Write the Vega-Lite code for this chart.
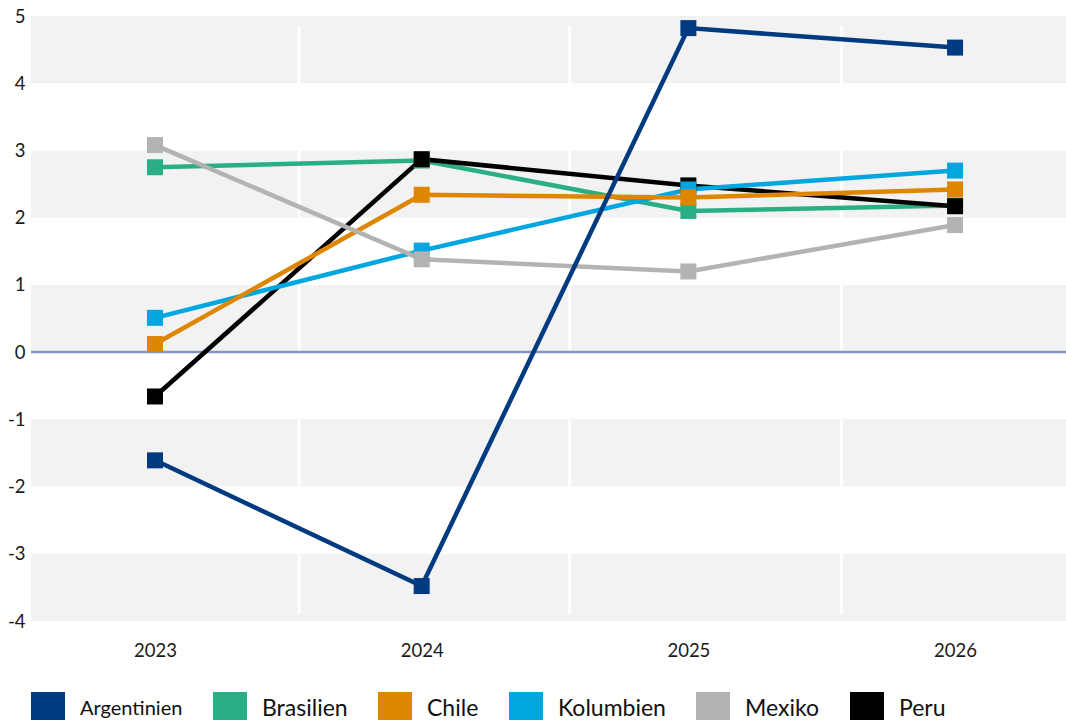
{
  "$schema": "https://vega.github.io/schema/vega-lite/v6.json",
  "autosize": {"type": "none"},
  "width": 1035,
  "height": 605,
  "padding": {"left": 31, "top": 16, "right": 0, "bottom": 99},
  "background": "white",
  "config": {
    "view": {"stroke": null},
    "font": "Lato",
    "axis": {"labelFont": "Lato", "labelColor": "#1a1a1a", "grid": false, "domain": false, "ticks": false}
  },
  "data": {"values": [
    {"land": "Brasilien", "jahr": 2023, "wert": 2.75},
    {"land": "Brasilien", "jahr": 2024, "wert": 2.85},
    {"land": "Brasilien", "jahr": 2025, "wert": 2.1},
    {"land": "Brasilien", "jahr": 2026, "wert": 2.18},
    {"land": "Peru", "jahr": 2023, "wert": -0.66},
    {"land": "Peru", "jahr": 2024, "wert": 2.87},
    {"land": "Peru", "jahr": 2025, "wert": 2.48},
    {"land": "Peru", "jahr": 2026, "wert": 2.17},
    {"land": "Kolumbien", "jahr": 2023, "wert": 0.51},
    {"land": "Kolumbien", "jahr": 2024, "wert": 1.51},
    {"land": "Kolumbien", "jahr": 2025, "wert": 2.42},
    {"land": "Kolumbien", "jahr": 2026, "wert": 2.7},
    {"land": "Chile", "jahr": 2023, "wert": 0.12},
    {"land": "Chile", "jahr": 2024, "wert": 2.34},
    {"land": "Chile", "jahr": 2025, "wert": 2.3},
    {"land": "Chile", "jahr": 2026, "wert": 2.42},
    {"land": "Mexiko", "jahr": 2023, "wert": 3.08},
    {"land": "Mexiko", "jahr": 2024, "wert": 1.38},
    {"land": "Mexiko", "jahr": 2025, "wert": 1.2},
    {"land": "Mexiko", "jahr": 2026, "wert": 1.89},
    {"land": "Argentinien", "jahr": 2023, "wert": -1.61},
    {"land": "Argentinien", "jahr": 2024, "wert": -3.48},
    {"land": "Argentinien", "jahr": 2025, "wert": 4.82},
    {"land": "Argentinien", "jahr": 2026, "wert": 4.53}
  ]},
  "layer": [
    {
      "data": {"values": [
        {"lo": 4, "hi": 5}, {"lo": 2, "hi": 3}, {"lo": 0, "hi": 1}, {"lo": -2, "hi": -1}, {"lo": -4, "hi": -3}
      ]},
      "mark": {"type": "rect", "color": "#F2F2F2"},
      "encoding": {
        "y": {"field": "lo", "type": "quantitative", "title": null,
          "scale": {"domain": [-4, 5], "nice": false, "zero": false},
          "axis": {"values": [-4, -3, -2, -1, 0, 1, 2, 3, 4, 5], "labelExpr": "'' + datum.value", "labelFontSize": 18.5, "labelPadding": 6, "title": null}},
        "y2": {"field": "hi"}
      }
    },
    {
      "data": {"values": [
        {"pos": 2023.54, "lo": -3.9, "hi": 4.85},
        {"pos": 2024.555, "lo": -3.9, "hi": 4.85},
        {"pos": 2025.574, "lo": -3.9, "hi": 4.85}
      ]},
      "mark": {"type": "rule", "color": "white", "strokeWidth": 3},
      "encoding": {
        "x": {"field": "pos", "type": "quantitative", "title": null,
          "scale": {"domain": [2022.535, 2026.416], "nice": false, "zero": false},
          "axis": {"values": [2023, 2024, 2025, 2026], "format": "d", "labelFontSize": 18.5, "labelPadding": 20, "title": null,
            "encode": {"labels": {"update": {"dx": {"signal": "(2024.5 - datum.value) * 4.7"}}}}}},
        "y": {"field": "lo", "type": "quantitative", "title": null},
        "y2": {"field": "hi"}
      }
    },
    {
      "data": {"values": [{"null": 0}]},
      "mark": {"type": "rule", "color": "#8197C3", "strokeWidth": 2.5},
      "encoding": {
        "y": {"field": "null", "type": "quantitative", "title": null}
      }
    },
    {
      "mark": {"type": "line", "strokeWidth": 4.5},
      "encoding": {
        "x": {"field": "jahr", "type": "quantitative", "title": null},
        "y": {"field": "wert", "type": "quantitative", "title": null},
        "color": {"field": "land", "type": "nominal", "title": null,
          "scale": {"domain": ["Argentinien", "Brasilien", "Chile", "Kolumbien", "Mexiko", "Peru"],
                    "range": ["#003A80", "#2AAE86", "#DF8600", "#00A6E0", "#B3B3B3", "#000000"]}}
      }
    },
    {
      "mark": {"type": "point", "shape": "square", "filled": true, "size": 256, "opacity": 1, "strokeWidth": 0},
      "encoding": {
        "x": {"field": "jahr", "type": "quantitative", "title": null},
        "y": {"field": "wert", "type": "quantitative", "title": null},
        "color": {"field": "land", "type": "nominal", "title": null,
          "legend": {
            "title": null, "orient": "bottom", "direction": "horizontal", "offset": 32,
            "symbolType": "square", "symbolSize": 1156, "symbolStrokeWidth": 0, "symbolOpacity": 1,
            "labelFont": "Lato", "labelFontSize": 23, "labelColor": "#111111",
            "labelOffset": 15, "columnPadding": 30, "labelLimit": 300,
            "encode": {
              "labels": {"update": {"fontSize": {"signal": "datum.label === 'Argentinien' ? 20 : 23"}}},
              "symbols": {"update": {"fill": {"scale": "color", "field": "value"}, "stroke": {"value": "transparent"}, "opacity": {"value": 1}}}
            }
          }
        }
      }
    }
  ]
}
